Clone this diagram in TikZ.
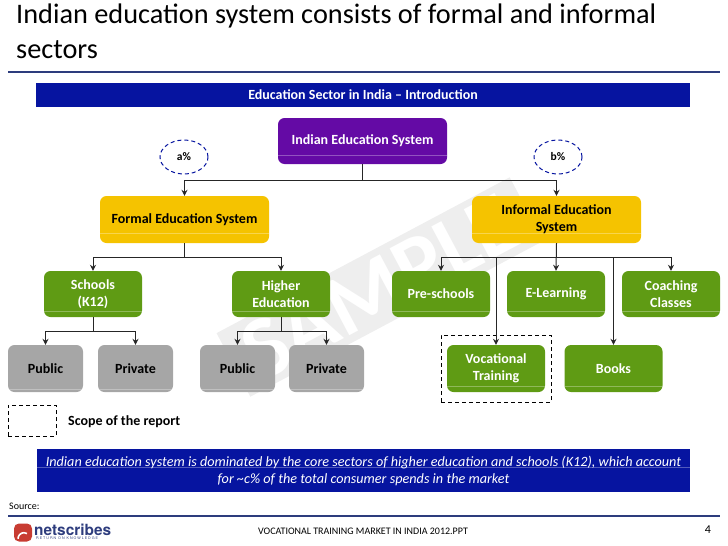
\documentclass[tikz,border=0pt]{standalone}
\usepackage{fontspec}
\setmainfont{Carlito}
\newfontfamily\logofont{TeX Gyre Heros}
\usetikzlibrary{arrows.meta, shapes.geometric}
\definecolor{navy}{RGB}{6, 20, 160}
\definecolor{violet}{RGB}{100, 10, 165}
\definecolor{amber}{RGB}{245, 195, 0}
\definecolor{leaf}{RGB}{95, 155, 20}
\definecolor{slab}{RGB}{166, 166, 166}
\definecolor{rulecol}{RGB}{45, 60, 125}
\definecolor{mark}{RGB}{238, 238, 238}
\definecolor{logored}{RGB}{200, 60, 50}

\begin{document}
\begin{tikzpicture}[x=1pt, y=-1pt,
      gloss/.style={path picture={\draw[white, opacity=.3] ([yshift=#1]path picture bounding box.south west) -- ([yshift=#1]path picture bounding box.south east);}},
      box/.style={rectangle, rounded corners=6.5pt, align=center, font=\bfseries\fontsize{14}{17}\selectfont, inner sep=0pt},
      rootbox/.style={box, fill=violet, text=white, minimum width=169pt, minimum height=46pt, gloss=9pt},
      sectorbox/.style={box, fill=amber, text=black, minimum width=169pt, minimum height=47pt, gloss=10pt},
      subbox/.style={box, fill=leaf, text=white, minimum width=98pt, minimum height=46pt, gloss=6pt},
      slabbox/.style={box, fill=slab, text=black, minimum width=75pt, minimum height=47pt, gloss=3pt},
      share/.style={ellipse, draw=navy, dash pattern=on 4pt off 3pt, line width=1pt, minimum width=48pt, minimum height=34pt, inner sep=0pt, font=\bfseries\fontsize{11.5}{13}\selectfont},
      banner/.style={rectangle, fill=navy, text=white, align=center},
      scopebox/.style={rectangle, draw=black, dash pattern=on 4pt off 3pt, line width=1pt, inner sep=0pt},
      arrow/.style={-{Stealth[length=6pt, width=6pt]}, line width=1pt, draw=black!85}
   ]
      \useasboundingbox (0,0) rectangle (728,546);

      % Watermark behind the chart
      \node (sample) [rotate=28, fill=mark, text=white, minimum width=332pt, minimum height=72pt, inner sep=0pt, font=\bfseries\fontsize{88}{88}\selectfont] at (380,287) {SAMPLE};

      % Heading
      \node (title) [anchor=north west, align=left, inner sep=0pt, font=\fontsize{28.3}{35}\selectfont] at (16,4) {Indian education system consists of formal and informal\\sectors};
      \coordinate (titleL) at (8,72);
      \coordinate (titleR) at (720,72);
      \draw[rulecol, line width=1.2pt] (titleL) -- (titleR);
      \node (intro) [banner, minimum width=654pt, minimum height=24pt, font=\bfseries\fontsize{14}{16}\selectfont] at (363,95) {Education Sector in India -- Introduction};

      % Tree, top level
      \node (indian)   [rootbox]   at (362.5,141) {\raisebox{-1pt}{Indian Education System}};
      \node (formal)   [sectorbox] at (184.5,219.5) {Formal Education System};
      \node (informal) [sectorbox] at (556.5,219.5) {Informal Education\\System};
      \node (apct) [share] at (184,157) {a\%};
      \node (bpct) [share] at (558,157) {b\%};

      % Green row
      \node (schools) [subbox] at (93,294)  {Schools\\(K12)};
      \node (higher)  [subbox] at (281,294) {Higher\\Education};
      \node (pre)     [subbox] at (441,294) {Pre-schools};
      \node (elearn)  [subbox] at (556,294) {E-Learning};
      \node (coach)   [subbox] at (671,294) {Coaching\\Classes};

      % Bottom row
      \node (public1)  [slabbox] at (45.5,368.5)  {Public};
      \node (private1) [slabbox] at (135.5,368.5) {Private};
      \node (public2)  [slabbox] at (237.5,368.5) {Public};
      \node (private2) [slabbox] at (326.5,368.5) {Private};
      \node (voc)   [subbox, minimum height=47pt] at (496,368.5) {Vocational\\Training};
      \node (books) [subbox, minimum height=47pt] at (613.5,368.5) {Books};
      \node (vocscope) [scopebox, minimum width=110pt, minimum height=67pt] at (496,368.5) {};

      % Connectors
      \draw[arrow] (indian.south) -- ++(0,16) -| (formal.north);
      \draw[arrow] (indian.south) -- ++(0,16) -| (informal.north);
      \draw[arrow] (formal.south) -- ++(0,14) -| (schools.north);
      \draw[arrow] (formal.south) -- ++(0,14) -| (higher.north);
      \draw[arrow] (informal.south) -- ++(0,14) -| (pre.north);
      \draw[arrow] (informal.south) -- (elearn.north);
      \draw[arrow] (informal.south) -- ++(0,14) -| (coach.north);
      \draw[arrow] (informal.south) -- ++(0,14) -| (voc.north);
      \draw[arrow] (informal.south) -- ++(0,14) -| (books.north);
      \draw[arrow] (schools.south) -- ++(0,14) -| (public1.north);
      \draw[arrow] (schools.south) -- ++(0,14) -| (private1.north);
      \draw[arrow] (higher.south) -- ++(0,14) -| (public2.north);
      \draw[arrow] (higher.south) -- ++(0,14) -| (private2.north);

      % Legend
      \node (scope) [scopebox, minimum width=48pt, minimum height=31pt] at (32,420.5) {};
      \node (scopetxt) [anchor=west, inner sep=0pt, font=\bfseries\fontsize{14}{16}\selectfont] at (68,421.5) {Scope of the report};

      % Takeaway
      \node (takeaway) [banner, minimum width=653pt, minimum height=43pt, gloss=25pt, font=\itshape\fontsize{14.2}{17}\selectfont] at (363.5,470.5) {Indian education system is dominated by the core sectors of higher education and schools (K12), which account\\for \textasciitilde c\% of the total consumer spends in the market};

      % Footer
      \node (source) [anchor=west, inner sep=0pt, font=\fontsize{10}{12}\selectfont] at (9,506) {Source:};
      \coordinate (footL) at (8,516);
      \coordinate (footR) at (720,516);
      \draw[rulecol, line width=1.2pt] (footL) -- (footR);
      \node (logomark) [rectangle, fill=logored, rounded corners=5pt, minimum width=18pt, minimum height=18pt, inner sep=0pt] at (23,532.5) {};
      \draw[white, line width=1.6pt] (logomark.south) ++(-5,-3) arc[start angle=180, end angle=60, radius=6pt];
      \node (logo) [anchor=west, inner sep=0pt, text=rulecol, font=\logofont\bfseries\fontsize{15.4}{17}\selectfont] at (34,529.5) {netscribes};
      \node (tagline) [anchor=west, inner sep=0pt, text=rulecol, font=\logofont\fontsize{3.6}{4}\selectfont] at (36,538.5) {R E T U R N\ \ O N\ \ K N O W L E D G E};
      \node (deck) [inner sep=0pt, font=\fontsize{10}{12}\selectfont] at (363,531) {VOCATIONAL TRAINING MARKET IN INDIA 2012.PPT};
      \node (page) [inner sep=0pt, font=\fontsize{12}{14}\selectfont] at (708,530) {4};
   \end{tikzpicture}
\end{document}
